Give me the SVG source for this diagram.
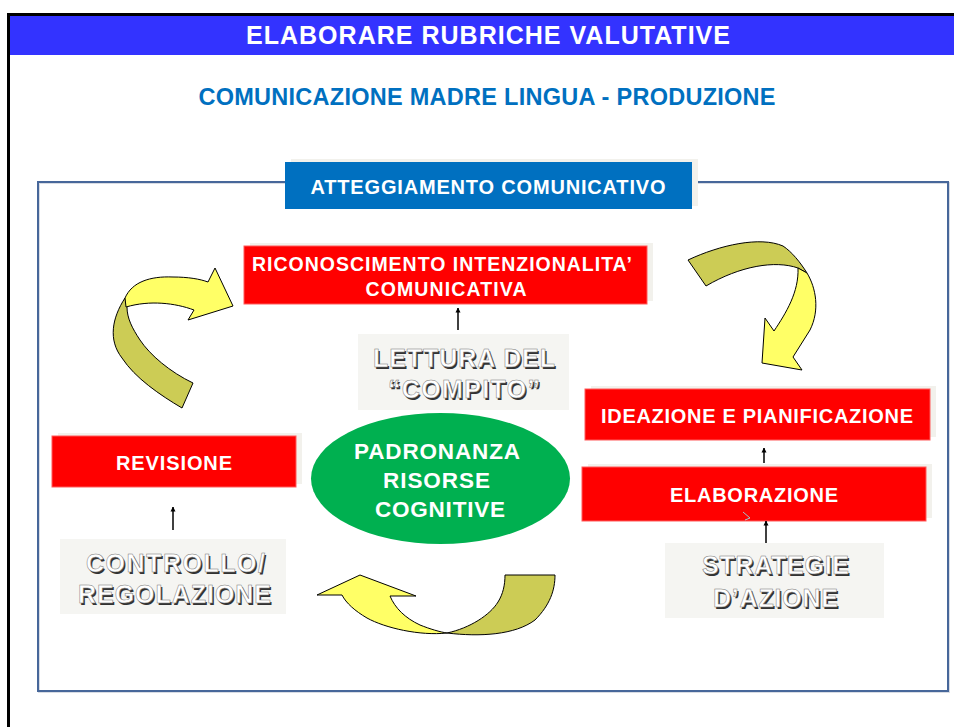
<svg xmlns="http://www.w3.org/2000/svg" width="954" height="727" viewBox="0 0 954 727">
<defs>
<marker id="ah" viewBox="0 0 10 10" refX="9" refY="5" markerWidth="5" markerHeight="6" orient="auto" markerUnits="userSpaceOnUse">
<path d="M0,0 L10,5 L0,10 Z" fill="#000"/>
</marker>
</defs>
<style>
text{font-family:"Liberation Sans",Arial,sans-serif;font-weight:bold;text-anchor:middle}
.red{fill:#FF0000;stroke:#FF5A5A;stroke-width:1}
.shd{fill:#F2F1EC}
.wt{fill:#FFFFFF}
.gray{fill:#F5F5F2}
.emb{fill:#FFFFFF;stroke:#777;stroke-width:0.5;font-size:25px}
.embs{fill:#333;font-size:25px}
.yl{fill:#FFFF66;stroke:#000;stroke-width:1}
.ol{fill:#CCCC55;stroke:#000;stroke-width:1}
.conn{stroke:#000;stroke-width:1.5;fill:none;marker-end:url(#ah)}
</style>
<rect width="954" height="727" fill="#FFFFFF"/>
<g id="frame">
<path d="M8.5,727 V14.5 H954" fill="none" stroke="#000" stroke-width="3"/>
<rect x="10" y="16" width="944" height="39" fill="#3333FF"/>
<text x="488" y="44" class="wt" font-size="25" textLength="484">ELABORARE RUBRICHE VALUTATIVE</text>
<text x="487" y="105" fill="#0070C0" font-size="23.5" textLength="577">COMUNICAZIONE MADRE LINGUA - PRODUZIONE</text>
<rect x="39" y="183" width="910" height="509" fill="none" stroke="#D8DCE4" stroke-width="2"/>
<rect x="38" y="182" width="910" height="509" fill="none" stroke="#47679A" stroke-width="2"/>
</g>
<g id="atteggiamento">
<rect x="291" y="159" width="407" height="47" class="shd"/>
<rect x="285" y="162" width="407" height="47" fill="#0070C0"/>
<text x="488" y="194" class="wt" font-size="20" textLength="355">ATTEGGIAMENTO COMUNICATIVO</text>
</g>
<g id="arrow-top-right">
<path class="ol" d="M688,260 C720,245 760,236 783,246 C792,252 800,262 807,273 L798,268 C775,260 740,266 706,286 Z"/>
<path class="yl" d="M807,273 C816,288 820,310 810,330 L793,357 L802,370 L762,363 L765,318 L774,331 C786,313 799,292 798,268 Z"/>
</g>
<g id="arrow-top-left">
<path class="ol" d="M125,298 C112,318 108,340 122,358 C135,378 160,395 182,408 L193,383 C170,372 150,355 140,340 C132,328 127,318 127,307 Z"/>
<path class="yl" d="M125,298 C132,282 150,276 173,277 C188,277 200,279 208,282 L215,268 L233,306 L188,320 L194,310 C175,303 150,300 126,307 Z"/>
</g>
<g id="arrow-bottom">
<path class="yl" d="M447,633 C420,636 385,628 367,618 C355,611 346,603 342,595 L317,595 L360,575 L416,596 L390,596 C395,608 405,618 420,625 C430,629 440,632 447,633 Z"/>
<path class="ol" d="M505,575 L555,575 C555,590 550,605 535,620 C515,635 480,637 447,633 C470,628 490,615 498,602 C503,594 505,585 505,575 Z"/>
</g>
<g id="riconoscimento">
<rect x="250" y="243" width="403" height="58" class="shd"/>
<rect x="244" y="246" width="403" height="58" class="red"/>
<text x="442" y="271" class="wt" font-size="19.5" textLength="380">RICONOSCIMENTO INTENZIONALITA’</text>
<text x="446" y="296" class="wt" font-size="19.5" textLength="161">COMUNICATIVA</text>
</g>
<g id="lettura">
<rect x="358" y="334" width="211" height="76" class="gray"/>
<text x="465.5" y="368.5" class="embs" textLength="182">LETTURA DEL</text>
<text x="464" y="367" class="emb" textLength="182">LETTURA DEL</text>
<text x="465.5" y="399.5" class="embs" textLength="152">“COMPITO”</text>
<text x="464" y="398" class="emb" textLength="152">“COMPITO”</text>
</g>
<g id="ideazione">
<rect x="591" y="386" width="345" height="51" class="shd"/>
<rect x="585" y="389" width="345" height="51" class="red"/>
<text x="757" y="423" class="wt" font-size="20" textLength="312">IDEAZIONE E PIANIFICAZIONE</text>
</g>
<g id="elaborazione">
<rect x="588" y="464" width="344" height="54" class="shd"/>
<rect x="582" y="467" width="344" height="54" class="red"/>
<text x="754" y="502" class="wt" font-size="20" textLength="168">ELABORAZIONE</text>
<path d="M743,512 L750,518 L745,520" fill="none" stroke="#9FC8D0" stroke-width="1"/>
</g>
<g id="strategie">
<rect x="665" y="543" width="219" height="75" class="gray"/>
<text x="777" y="575.5" class="embs" textLength="147">STRATEGIE</text>
<text x="775.5" y="574" class="emb" textLength="147">STRATEGIE</text>
<text x="777" y="608.5" class="embs" textLength="125">D’AZIONE</text>
<text x="775.5" y="607" class="emb" textLength="125">D’AZIONE</text>
</g>
<g id="revisione">
<rect x="58" y="433" width="244" height="51" class="shd"/>
<rect x="52" y="436" width="244" height="51" class="red"/>
<text x="174" y="470" class="wt" font-size="20" textLength="116">REVISIONE</text>
</g>
<g id="controllo">
<rect x="60" y="539" width="226" height="75" class="gray"/>
<text x="177" y="573.5" class="embs" textLength="179">CONTROLLO/</text>
<text x="175.5" y="572" class="emb" textLength="179">CONTROLLO/</text>
<text x="176" y="604.5" class="embs" textLength="193">REGOLAZIONE</text>
<text x="174.5" y="603" class="emb" textLength="193">REGOLAZIONE</text>
</g>
<g id="padronanza">
<ellipse cx="440.5" cy="478.5" rx="129.5" ry="65.5" fill="#00B050"/>
<text x="437" y="459" class="wt" font-size="22.5" textLength="166">PADRONANZA</text>
<text x="436.5" y="488" class="wt" font-size="22.5" textLength="107">RISORSE</text>
<text x="440" y="517" class="wt" font-size="22.5" textLength="130">COGNITIVE</text>
</g>
<g id="connectors">
<line x1="458" y1="330" x2="458" y2="308" class="conn"/>
<line x1="764" y1="463" x2="764" y2="448" class="conn"/>
<line x1="766" y1="543" x2="766" y2="521" class="conn"/>
<line x1="173" y1="530" x2="173" y2="507" class="conn"/>
</g>
</svg>
